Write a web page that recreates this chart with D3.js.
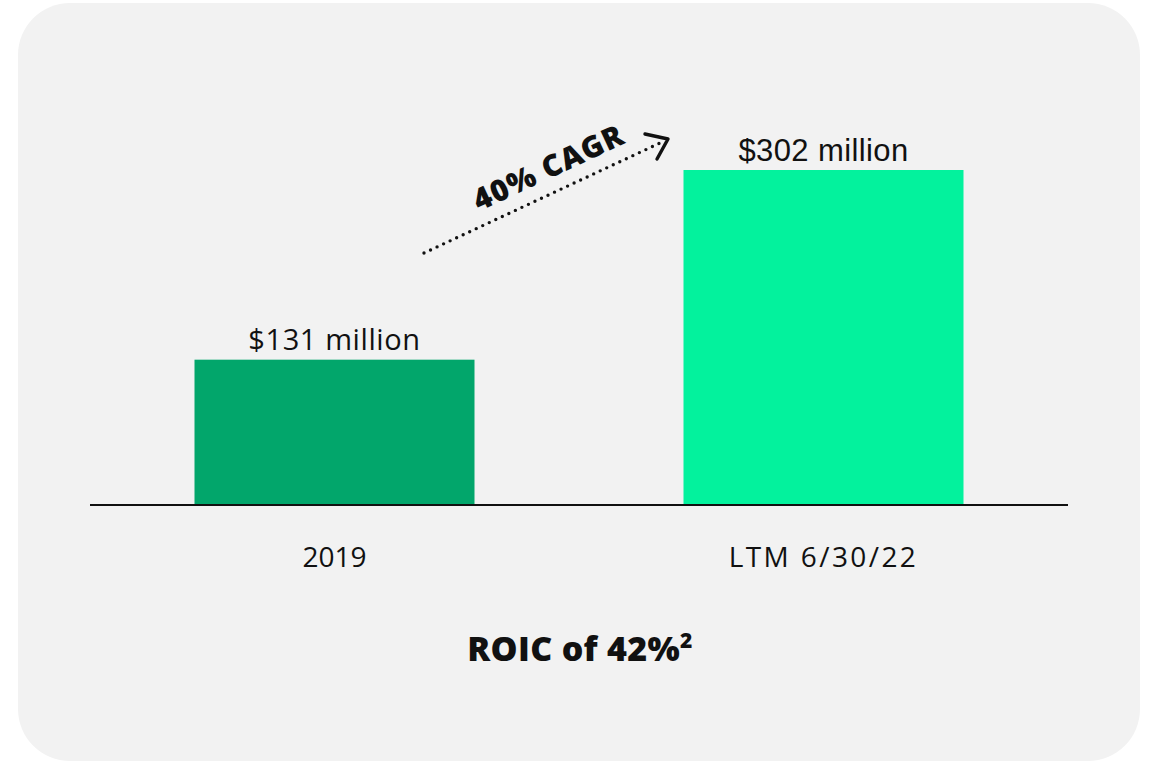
<!DOCTYPE html>
<html><head><meta charset="utf-8">
<script src="https://cdn.jsdelivr.net/npm/d3@7"></script>
<style>html,body{margin:0;padding:0;background:#fff;}</style>
</head><body>
<svg id="chart" width="1152" height="764"></svg>
<script>
const categories = ["2019", "LTM 6/30/22"];
const values = [131, 302];
const valueLabels = ["$131 million", "$302 million"];
const barColors = ["#02a66b", "#03f29d"];
const cagrLabel = "40% CAGR";
const footnoteTitle = "ROIC of 42%";
const footnoteSup = "2";

const svg = d3.select("#chart");
svg.append("rect").attr("x",18).attr("y",3).attr("width",1122).attr("height",758)
  .attr("rx",52).attr("ry",52).attr("fill","#f2f2f2");

const baseY = 505;
const x = d3.scaleBand().domain(categories).range([90,1068]).paddingInner(0.4274).paddingOuter(0.2137);
const y = d3.scaleLinear().domain([0, 302]).range([baseY, 170]);

svg.selectAll("rect.bar").data(categories).enter().append("rect")
  .attr("class","bar")
  .attr("x", d => x(d))
  .attr("width", x.bandwidth())
  .attr("y", (d,i) => y(values[i]))
  .attr("height", (d,i) => baseY - y(values[i]))
  .attr("fill", (d,i) => barColors[i]);

const axis = d3.axisBottom(x).tickSize(0).tickPadding(0);
const gAxis = svg.append("g").attr("transform",`translate(0,${baseY})`).call(axis);
gAxis.select(".domain").attr("stroke","#111").attr("stroke-width",2).attr("d","M90,0H1068");
gAxis.selectAll(".tick text").attr("dy",0).attr("y",62)
  .attr("font-family","'Open Sans', sans-serif").attr("font-size",28)
  .attr("letter-spacing",(d,i) => i===0 ? 0 : 2.4).attr("fill","#111");

svg.selectAll("text.val").data(categories).enter().append("text")
  .attr("class","val")
  .attr("x", d => x(d) + x.bandwidth()/2)
  .attr("y", (d,i) => y(values[i]) - (i===0 ? 10 : 9))
  .attr("text-anchor","middle")
  .attr("font-family", (d,i) => i===0 ? "'Open Sans', sans-serif" : "'Liberation Sans', Arial, sans-serif")
  .attr("font-size", (d,i) => i===0 ? 29 : 31)
  .attr("letter-spacing", (d,i) => i===0 ? 0.6 : 0.4)
  .attr("fill","#111")
  .text((d,i) => valueLabels[i]);

// CAGR arrow
const x0 = 424, y0 = 253, x1 = 668, y1 = 139;
svg.append("line").attr("x1",x0).attr("y1",y0).attr("x2",660).attr("y2",143)
  .attr("stroke","#111").attr("stroke-width",3.4).attr("stroke-linecap","round")
  .attr("stroke-dasharray","0 7.2");
const arrowHead = [[645,134],[668,139],[657,159]];
svg.append("path").attr("d", d3.line()(arrowHead))
  .attr("fill","none").attr("stroke","#111").attr("stroke-width",3.4).attr("stroke-linecap","round").attr("stroke-linejoin","round");
const deg = Math.atan2(y1-y0, x1-x0)*180/Math.PI;
svg.append("text").attr("transform",`translate(553,177) rotate(${deg})`)
  .attr("text-anchor","middle").attr("font-family","'Open Sans', sans-serif")
  .attr("font-weight",800).attr("font-size",30).attr("letter-spacing",1).attr("fill","#111").text(cagrLabel);

const t = svg.append("text").attr("x",580).attr("y",661).attr("text-anchor","middle")
  .attr("font-family","'Open Sans', sans-serif").attr("font-weight",800)
  .attr("font-size",34).attr("letter-spacing",0.3).attr("fill","#111");
t.append("tspan").text(footnoteTitle);
t.append("tspan").attr("dy",-13).attr("font-size",21).text(footnoteSup);
</script>
</body></html>
